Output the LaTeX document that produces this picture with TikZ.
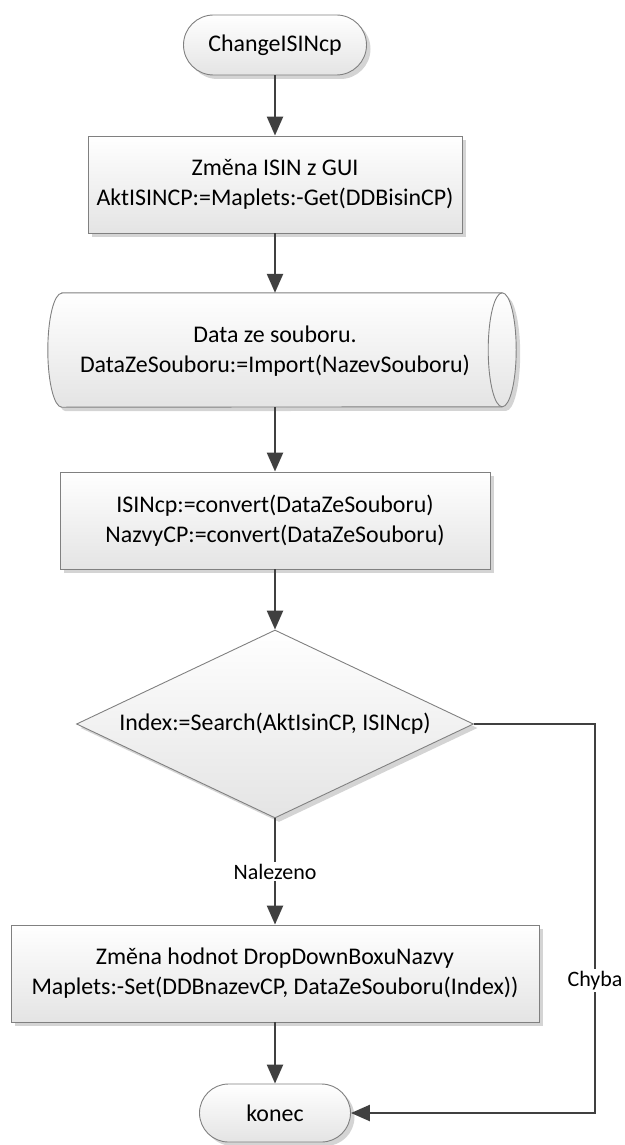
\documentclass[tikz,border=0pt]{standalone}
\usepackage{fontspec}
\setmainfont{Carlito}
\usetikzlibrary{shapes.geometric,shapes.misc,arrows.meta,shadows}
\definecolor{edgegray}{HTML}{808080}
\definecolor{linegray}{HTML}{404040}
\definecolor{fillbot}{HTML}{E4E4E4}
\definecolor{shadowgray}{HTML}{D4D4D4}

\begin{document}
\begin{tikzpicture}[x=1pt,y=-1pt,
  every node/.style={font=\fontsize{23.9}{30}\selectfont, align=center, inner sep=0pt},
  boxshadow/.style={drop shadow={shadow xshift=4pt, shadow yshift=-4pt, fill=shadowgray, opacity=1}},
  shapefill/.style={draw=edgegray, line width=0.9pt, top color=white, bottom color=fillbot},
  procbox/.style={rectangle, shapefill, boxshadow, minimum height=97pt},
  termbox/.style={rounded rectangle, shapefill, boxshadow},
  decbox/.style={diamond, aspect=2.1, shapefill, boxshadow},
  conn/.style={draw=linegray, line width=2.4pt, -{Triangle[length=19pt,width=16pt]}},
  edgelabel/.style={fill=white, font=\fontsize{22}{26}\selectfont, inner sep=2pt}
]
\useasboundingbox (0,0) rectangle (624,1145);

% start / end terminators
\node[termbox, minimum width=183pt, minimum height=60pt] (start) at (275,45) {ChangeISINcp};
\node[termbox, minimum width=151pt, minimum height=58pt] (konec) at (275,1113) {konec};

% process steps
\node[procbox, minimum width=374pt] (box1) at (275,184.5)
  {Změna ISIN z GUI\\AktISINCP:=Maplets:-Get(DDBisinCP)};

% stored data (horizontal cylinder)
\node[minimum width=440pt, minimum height=114pt] (cyl) at (282,350) {};
\path[shapefill, boxshadow] (cyl.north west) -- (cyl.north east)
  arc[start angle=90, end angle=-90, x radius=14pt, y radius=57pt]
  -- (cyl.south west)
  arc[start angle=270, end angle=90, x radius=14pt, y radius=57pt] -- cycle;
\draw[edgegray, line width=0.9pt] (cyl.north east)
  arc[start angle=90, end angle=270, x radius=14pt, y radius=57pt];
\node (cyltext) at (275,351) {Data ze souboru.\\DataZeSouboru:=Import(NazevSouboru)};

\node[procbox, minimum width=430pt] (box2) at (275,520.5)
  {ISINcp:=convert(DataZeSouboru)\\NazvyCP:=convert(DataZeSouboru)};

% decision
\node[decbox, minimum width=397pt, minimum height=188pt] (dec) at (275,724)
  {Index:=Search(AktIsinCP, ISINcp)};

\node[procbox, minimum width=528pt] (box3) at (275,973.5)
  {Změna hodnot DropDownBoxuNazvy\\Maplets:-Set(DDBnazevCP, DataZeSouboru(Index))};

% connectors
\draw[conn] (start.south) -- (box1.north);
\draw[conn] (box1.south) -- (box1.south |- cyl.north);
\draw[conn] (box1.south |- cyl.south) -- (box2.north);
\draw[conn] (box2.south) -- (dec.north);
\draw[conn] (dec.south) -- node[edgelabel] (lblfound) {Nalezeno} (box3.north);
\draw[conn] (box3.south) -- (konec.north);

\coordinate (bendtop) at (595,724);
\coordinate (bendbot) at (595,1113);
\draw[conn] (dec.east) -- (bendtop)
  -- node[edgelabel, pos=0.66] (lblerr) {Chyba} (bendbot)
  -- (konec.east);
\end{tikzpicture}
\end{document}
